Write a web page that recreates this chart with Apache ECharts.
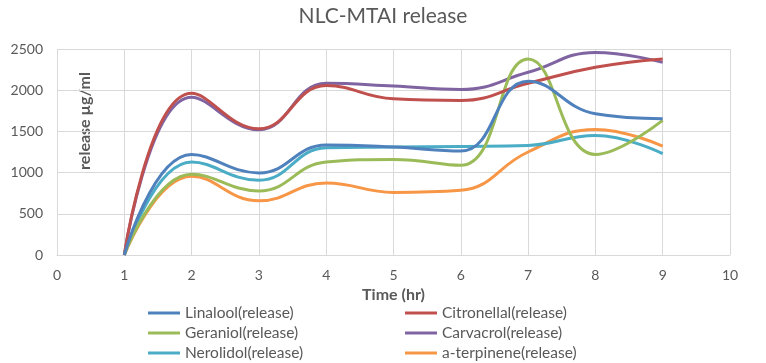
<!DOCTYPE html>
<html>
<head>
<meta charset="utf-8">
<script src="https://cdn.jsdelivr.net/npm/echarts@6/dist/echarts.min.js"></script>
<style>
  html, body { margin: 0; padding: 0; background: #fff; }
  #main { width: 766px; height: 363px; }
</style>
</head>
<body>
<div id="main"></div>
<script>
// time points (hr)
var hours = [1, 2, 3, 4, 5, 6, 7, 8, 9];

// release values, µg/ml
var linalool    = [0, 1220, 996, 1335, 1310, 1262, 2110, 1714, 1655];
var citronellal = [0, 1963, 1532, 2056, 1895, 1875, 2084, 2278, 2379];
var geraniol    = [0, 980, 778, 1129, 1160, 1089, 2379, 1221, 1633];
var carvacrol   = [0, 1915, 1520, 2084, 2050, 2008, 2217, 2459, 2338];
var nerolidol   = [0, 1129, 907, 1302, 1310, 1318, 1330, 1451, 1230];
var aTerpinene  = [0, 956, 657, 875, 760, 786, 1250, 1524, 1322];

var names = ['Linalool(release)', 'Citronellal(release)', 'Geraniol(release)',
             'Carvacrol(release)', 'Nerolidol(release)', 'a-terpinene(release)'];
var colors = ['#4F81BD', '#C0504D', '#9BBB59', '#8064A2', '#4BACC6', '#F79646'];
var values = [linalool, citronellal, geraniol, carvacrol, nerolidol, aTerpinene];

function pairs(arr) {
    return hours.map(function (h, i) { return [h, arr[i]]; });
}

var font = 'Lato, "Open Sans", sans-serif';
var grey = '#595959';

var series = names.map(function (n, i) {
    return {
        type: 'line',
        name: n,
        data: pairs(values[i]),
        smooth: 0.45,
        showSymbol: false,
        symbol: 'none',
        color: colors[i],
        lineStyle: { width: 3, color: colors[i] },
        z: 10 - i
    };
});

var legendBase = {
    orient: 'vertical',
    icon: 'rect',
    itemWidth: 32,
    itemHeight: 3,
    itemGap: 4,
    padding: 0,
    height: 60,
    textStyle: { fontSize: 15.5, lineHeight: 16, color: grey, fontFamily: font }
};

var chart = echarts.init(document.getElementById('main'));
chart.setOption({
    animation: false,
    title: {
        text: 'NLC-MTAI release',
        left: 'center',
        top: 1,
        textStyle: { fontSize: 21, fontWeight: 'normal', color: grey, fontFamily: font }
    },
    grid: { left: 57, right: 36, top: 49, bottom: 108 },
    legend: [
        Object.assign({}, legendBase, { left: 148, top: 305, data: [names[0], names[2], names[4]] }),
        Object.assign({}, legendBase, { left: 405, top: 305, data: [names[1], names[3], names[5]] })
    ],
    xAxis: {
        type: 'value',
        min: 0,
        max: 10,
        interval: 1,
        name: 'Time (hr)',
        nameLocation: 'middle',
        nameGap: 32,
        nameTextStyle: { fontSize: 16, fontWeight: 'bold', color: grey, fontFamily: font },
        axisLine: { lineStyle: { color: '#D9D9D9' } },
        axisTick: { show: false },
        axisLabel: { fontSize: 14, color: grey, fontFamily: font, margin: 13 },
        splitLine: { show: true, lineStyle: { color: '#D9D9D9' } }
    },
    yAxis: {
        type: 'value',
        min: 0,
        max: 2500,
        interval: 500,
        axisLine: { show: false },
        axisTick: { show: false },
        axisLabel: {
            fontSize: 14, color: grey, fontFamily: font, margin: 14,
            formatter: function (v) { return String(v); }
        },
        splitLine: { show: true, lineStyle: { color: '#D9D9D9' } }
    },
    graphic: [{
        type: 'text',
        x: 85,
        y: 121,
        rotation: Math.PI / 2,
        style: {
            text: 'release µg/ml',
            fontSize: 16,
            fontWeight: 'bold',
            fill: grey,
            fontFamily: font,
            align: 'center',
            verticalAlign: 'middle'
        }
    }],
    series: series
});
</script>
</body>
</html>
